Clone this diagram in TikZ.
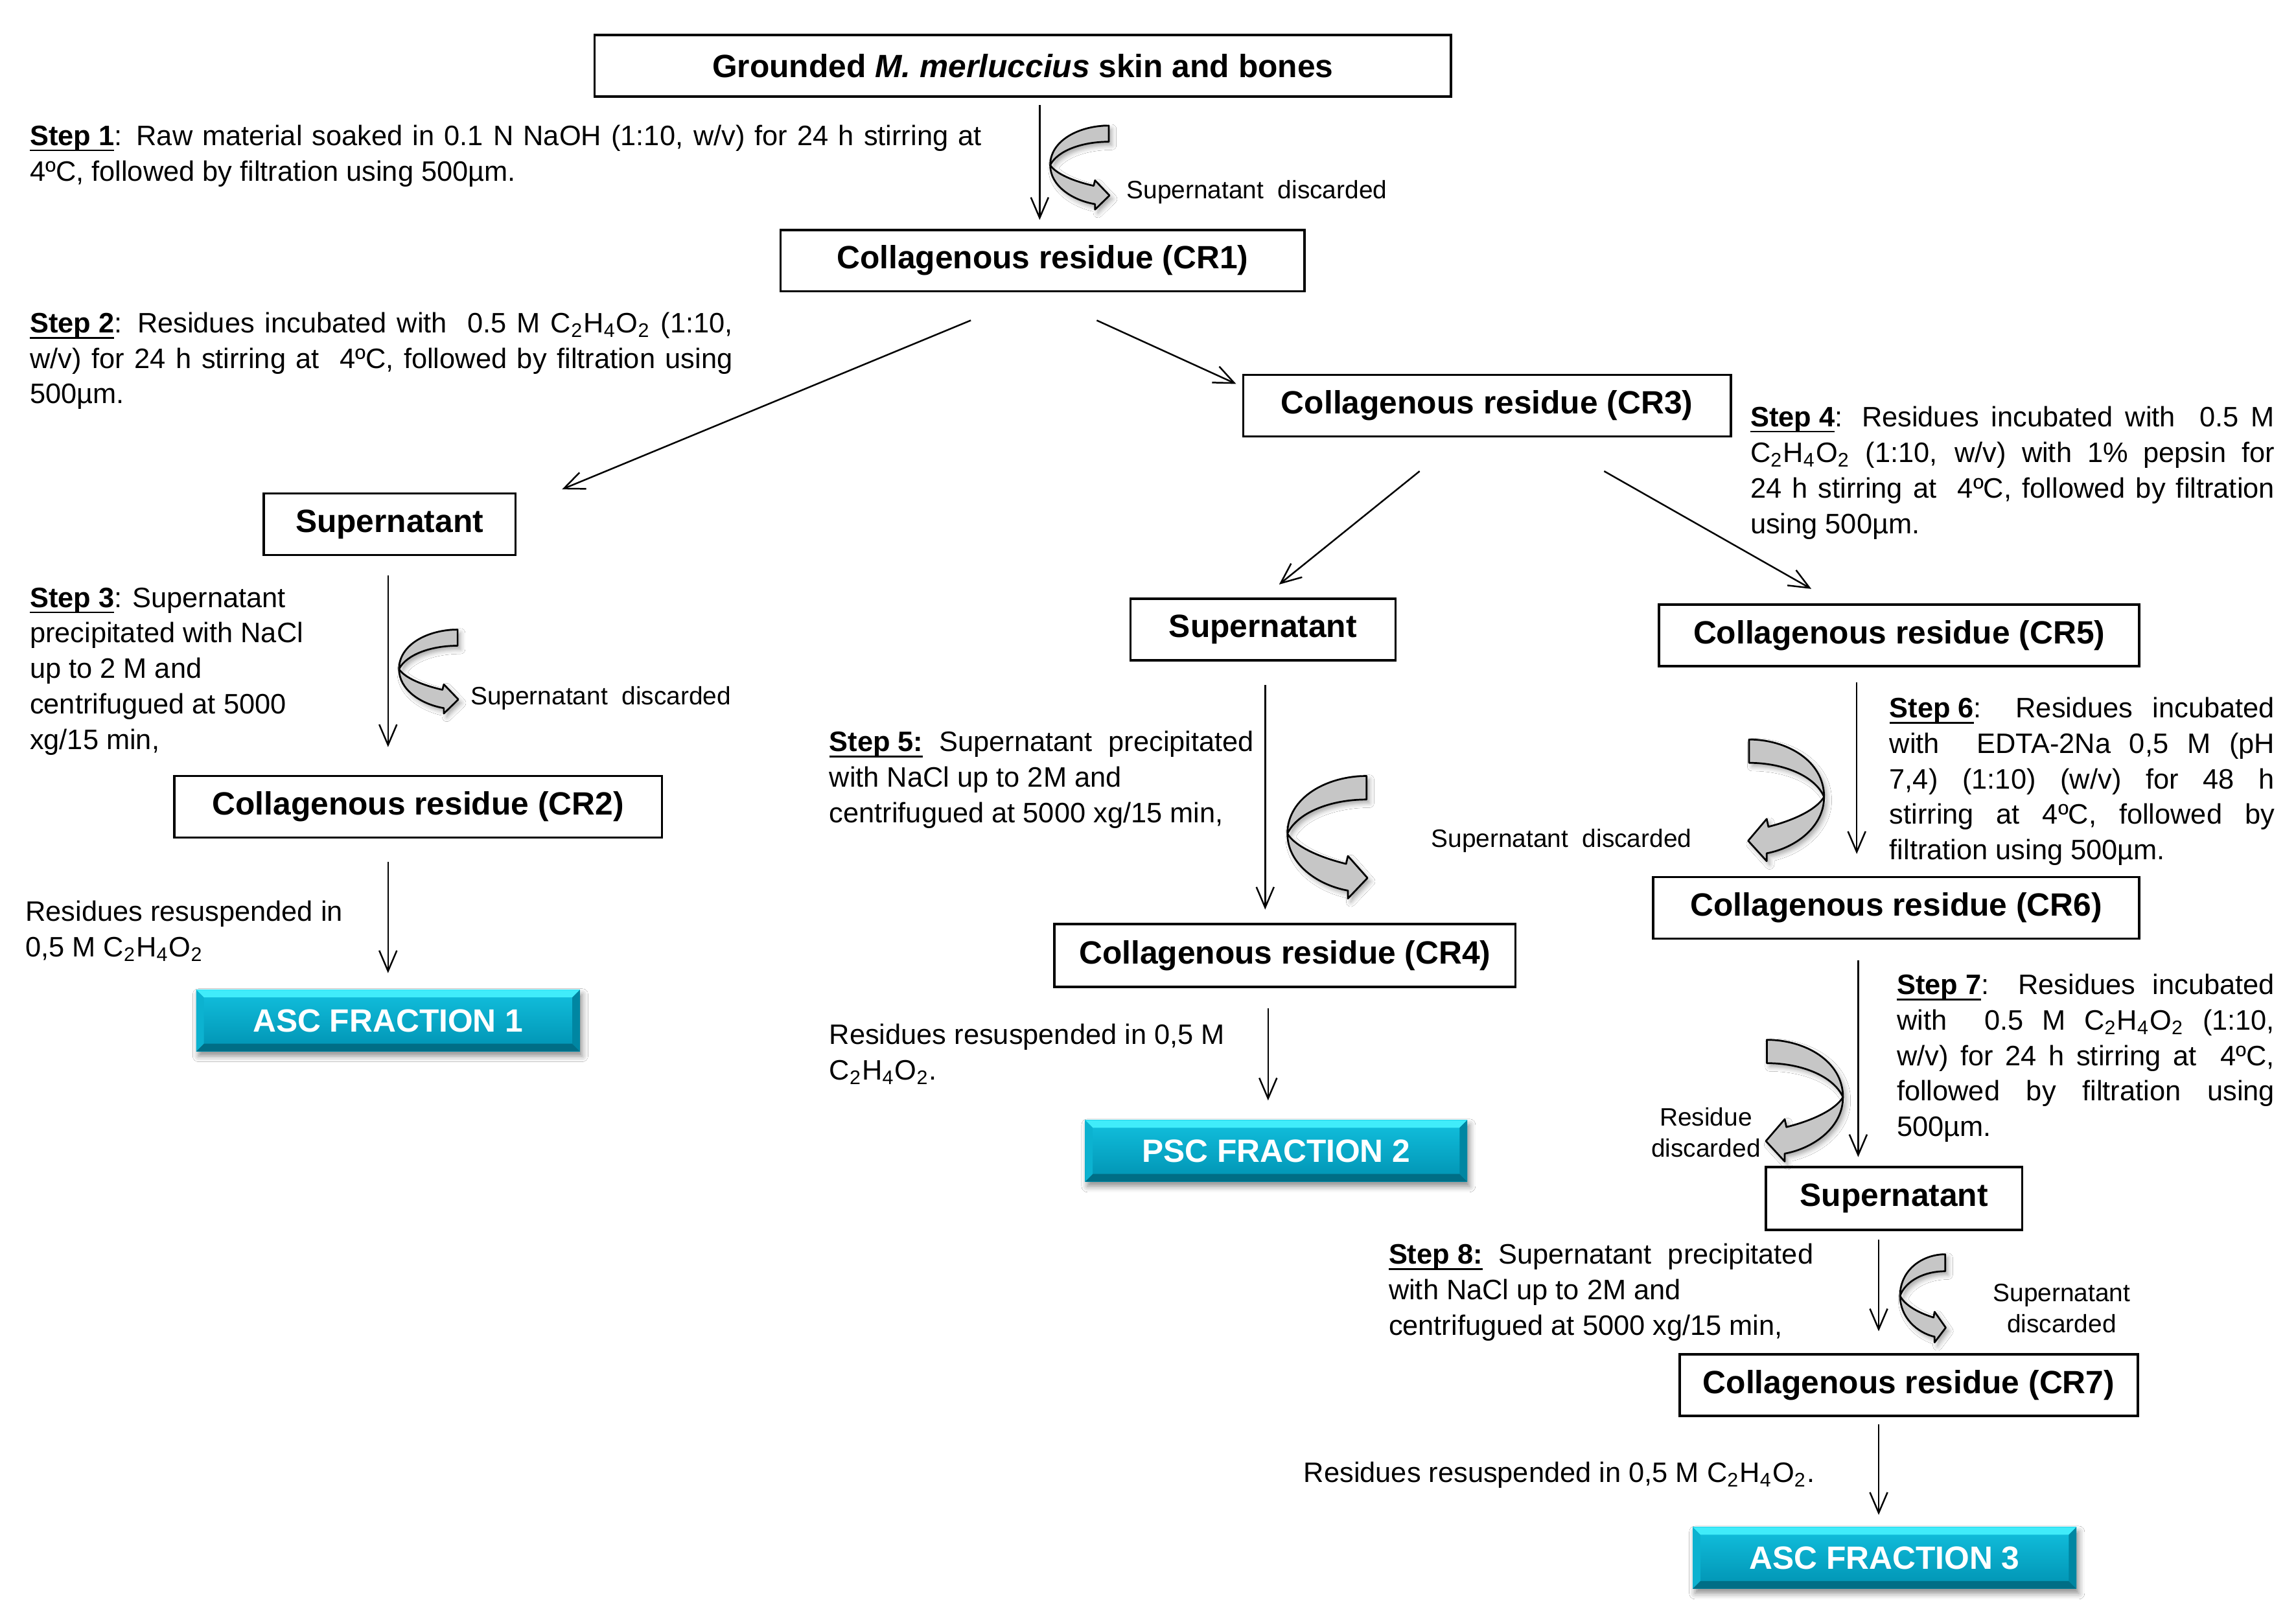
\documentclass[tikz,border=0pt]{standalone}
\usepackage{fontspec}
\setmainfont{Liberation Sans}
\usetikzlibrary{arrows.meta,calc,shadows.blur}
\definecolor{fracA}{HTML}{12C0DE}
\definecolor{fracB}{HTML}{0092B2}
\definecolor{fracT}{HTML}{40ECFA}
\definecolor{fracD}{HTML}{006E86}
\definecolor{fracL}{HTML}{0CB2D0}
\definecolor{fracR}{HTML}{0086A2}
\newcommand\bxf{\fontsize{11}{13}\selectfont\bfseries}
\newcommand\txf{\fontsize{9.6}{12.1}\selectfont}
\newcommand\smf{\fontsize{8.6}{10.5}\selectfont}
\newsavebox\stpbox
\newcommand\stp[1]{\sbox\stpbox{\textbf{#1}}\rlap{\rule[-2pt]{\wd\stpbox}{0.6pt}}\usebox\stpbox}
\newcommand\jl[2]{\makebox[#1][s]{#2}}
\newcommand\fbev{2.6pt}
\newcommand\cho{C\textsubscript{2}H\textsubscript{4}O\textsubscript{2}}
\tikzset{
  box/.style={draw, line width=0.8pt, inner sep=0pt, minimum height=21pt, font=\bxf},
  txt/.style={inner sep=0pt, align=left, anchor=north west, font=\txf},
  lbl/.style={inner sep=0pt, font=\smf},
  arr/.style={-{Straight Barb[length=7pt,width=6pt]}, line width=0.55pt},
  frac/.style={minimum width=131pt, minimum height=21pt, inner sep=0pt, text=white, font=\bxf,
    blur shadow={shadow xshift=0.8pt, shadow yshift=-1.6pt, shadow blur radius=2pt, shadow opacity=45},
    path picture={
      \fill[top color=fracA, bottom color=fracB] (path picture bounding box.south west) rectangle (path picture bounding box.north east);
      \fill[fracT] (path picture bounding box.north west) -- (path picture bounding box.north east)
        -- ([xshift=-\fbev,yshift=-\fbev]path picture bounding box.north east)
        -- ([xshift=\fbev,yshift=-\fbev]path picture bounding box.north west) -- cycle;
      \fill[fracD] (path picture bounding box.south west) -- (path picture bounding box.south east)
        -- ([xshift=-\fbev,yshift=\fbev]path picture bounding box.south east)
        -- ([xshift=\fbev,yshift=\fbev]path picture bounding box.south west) -- cycle;
      \fill[fracL] (path picture bounding box.south west) -- (path picture bounding box.north west)
        -- ([xshift=\fbev,yshift=-\fbev]path picture bounding box.north west)
        -- ([xshift=\fbev,yshift=\fbev]path picture bounding box.south west) -- cycle;
      \fill[fracR] (path picture bounding box.south east) -- (path picture bounding box.north east)
        -- ([xshift=-\fbev,yshift=-\fbev]path picture bounding box.north east)
        -- ([xshift=-\fbev,yshift=\fbev]path picture bounding box.south east) -- cycle;
    }},
  curvarr/.pic={
    \filldraw[fill=gray!45, draw=black, line width=0.6pt, line join=round,
      blur shadow={shadow xshift=1pt, shadow yshift=-1.2pt, shadow blur radius=1.6pt, shadow opacity=35}]
      (40,-27) .. controls (20,-27) and (0,-17) .. (0,0)
      .. controls (0,14) and (15,24) .. (30.6,26.6)
      -- (30.6,30.3) -- (40.5,20.7) -- (30.6,10.4) -- (29.7,14.1)
      .. controls (16,11) and (4,6) .. (0,0)
      .. controls (5,-10) and (22,-16) .. (40,-16) -- cycle;
  }
}
\begin{document}
\begin{tikzpicture}[x=0.5pt,y=-0.5pt]
\fill[white] (0,0) rectangle (1568,1106);
\useasboundingbox (0,0) rectangle (1568,1106);

% boxes
\node[box, minimum width=292.5pt] (top) at (698.5,45) {Grounded \textit{M. merluccius} skin and bones};
\node[box, minimum width=179pt] (cr1) at (712,178) {Collagenous residue (CR1)};
\node[box, minimum width=166.5pt] (cr3) at (1015.5,277) {Collagenous residue (CR3)};
\node[box, minimum width=86pt] (sup1) at (266,358) {Supernatant};
\node[box, minimum width=166.5pt] (cr2) at (285.5,551) {Collagenous residue (CR2)};
\node[frac] (asc1) at (265,697) {ASC FRACTION 1};
\node[box, minimum width=90.5pt] (sup2) at (862.5,430) {Supernatant};
\node[box, minimum width=164pt] (cr5) at (1297,434) {Collagenous residue (CR5)};
\node[box, minimum width=157.5pt, minimum height=21.5pt] (cr4) at (877.5,652.5) {Collagenous residue (CR4)};
\node[frac, minimum width=130.5pt] (psc2) at (871.5,786) {PSC FRACTION 2};
\node[box, minimum width=166pt] (cr6) at (1295,620) {Collagenous residue (CR6)};
\node[box, minimum width=87.5pt, minimum height=21.5pt] (sup3) at (1293.5,818.5) {Supernatant};
\node[box, minimum width=156.5pt] (cr7) at (1303.5,946) {Collagenous residue (CR7)};
\node[frac] (asc3) at (1287,1064) {ASC FRACTION 3};

% step texts
\node[txt] (s1) at (20,85) {\jl{325pt}{\stp{Step 1}: Raw material soaked in 0.1 N NaOH (1:10, w/v) for 24 h stirring at}\\4ºC, followed by filtration using 500µm.};
\node[txt] (s2) at (20,213) {\jl{240pt}{\stp{Step 2}: Residues incubated with \ 0.5 M \cho{} (1:10,}\\\jl{240pt}{w/v) for 24 h stirring at \ 4ºC, followed by filtration using}\\500µm.};
\node[txt] (s3) at (20,401) {\stp{Step 3}: Supernatant\\precipitated with NaCl\\up to 2 M and\\centrifugued at 5000\\xg/15 min,};
\node[txt, font=\fontsize{9.6}{12.2}\selectfont] (s4) at (1195,277) {\jl{179pt}{\stp{Step 4}: Residues incubated with \ 0.5 M}\\\jl{179pt}{\cho{} (1:10, w/v) with 1\% pepsin for}\\\jl{179pt}{24 h stirring at \ 4ºC, followed by filtration}\\using 500µm.};
\node[txt] (s5) at (566,499) {\jl{145pt}{\stp{Step 5:} Supernatant precipitated}\\with NaCl up to 2M and\\centrifugued at 5000 xg/15 min,};
\node[txt] (s6) at (1290,476) {\jl{131.5pt}{\stp{Step 6}: Residues incubated}\\\jl{131.5pt}{with \ EDTA-2Na 0,5 M (pH}\\\jl{131.5pt}{7,4) (1:10) (w/v) for 48 h}\\\jl{131.5pt}{stirring at 4ºC, followed by}\\filtration using 500µm.};
\node[txt] (s7) at (1295,665) {\jl{129pt}{\stp{Step 7}: Residues incubated}\\\jl{129pt}{with \ 0.5 M \cho{} (1:10,}\\\jl{129pt}{w/v) for 24 h stirring at \ 4ºC,}\\\jl{129pt}{followed by filtration using}\\500µm.};
\node[txt] (s8) at (948,849) {\jl{145pt}{\stp{Step 8:} Supernatant precipitated}\\with NaCl up to 2M and\\centrifugued at 5000 xg/15 min,};
\node[txt] (r1) at (17,615) {Residues resuspended in\\0,5 M \cho};
\node[txt] (r2) at (566,699) {Residues resuspended in 0,5 M\\\cho.};
\node[txt] (r3) at (890,998) {Residues resuspended in 0,5 M \cho.};

% small labels
\node[lbl, anchor=west] (l1) at (769,131) {Supernatant\ \ discarded};
\node[lbl, anchor=west] (l2) at (321,477) {Supernatant\ \ discarded};
\node[lbl, anchor=west] (l3) at (977,574) {Supernatant\ \ discarded};
\node[lbl, align=center] (l4) at (1165,773.5) {Residue\\discarded};
\node[lbl, align=center] (l5) at (1408,893.5) {Supernatant\\discarded};

% curved discard arrows
\pic at (717.2,112.8) {curvarr};
\pic at (272.5,457) {curvarr};
\pic[xscale=1.35,yscale=1.46] at (879.2,569.4) {curvarr};
\pic[xscale=-1.28,yscale=1.45] at (1245.7,544.2) {curvarr};
\pic[xscale=-1.3,yscale=1.45] at (1258.6,749.3) {curvarr};
\pic[xscale=0.77,yscale=1.05] at (1297.6,885) {curvarr};

% connectors
\draw[arr] ($(top.south -| cr1.north)+(-2,5)$) -- ($(cr1.north)+(-2,-6)$);
\draw[arr] ($(cr1.south)+(-49,19)$) -- ($(sup1.north east)+(31,-2)$);
\draw[arr] ($(cr1.south)+(37,19)$) -- ($(cr3.north west)+(-4,7)$);
\draw[arr] ($(sup1.south)+(-1,13)$) -- ($(sup1.south |- cr2.north)+(-1,-19)$);
\draw[arr] ($(asc1.north |- cr2.south)+(0,16)$) -- ($(asc1.north)+(0,-11)$);
\draw[arr] ($(cr3.south)+(-46,23)$) -- ($(sup2.north)+(11,-9)$);
\draw[arr] ($(cr3.south)+(80,23)$) -- ($(cr5.north)+(-60,-10)$);
\draw[arr] ($(sup2.south)+(1.5,16)$) -- ($(sup2.south |- cr4.north)+(1.5,-9)$);
\draw[arr] ($(cr4.south)+(-11.5,14)$) -- ($(cr4.south |- psc2.north)+(-11.5,-13)$);
\draw[arr] ($(cr5.south)+(-29,10)$) -- ($(cr5.south |- cr6.north)+(-29,-15)$);
\draw[arr] ($(cr6.south)+(-26,14)$) -- ($(cr6.south |- sup3.north)+(-26,-6)$);
\draw[arr] ($(sup3.south)+(-10.5,6)$) -- ($(sup3.south |- cr7.north)+(-10.5,-15)$);
\draw[arr] ($(cr7.south)+(-20.5,5)$) -- ($(cr7.south |- asc3.north)+(-20.5,-8)$);
\end{tikzpicture}
\end{document}
